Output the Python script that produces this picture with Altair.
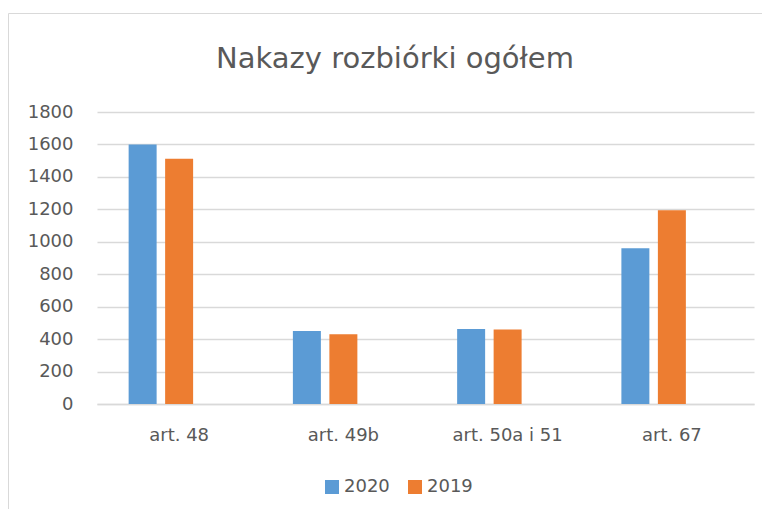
import altair as alt
import pandas as pd

categories = ["art. 48", "art. 49b", "art. 50a i 51", "art. 67"]
series = ["2020", "2019"]
values_2020 = [1600, 450, 463, 960]
values_2019 = [1512, 430, 460, 1195]
y_ticks = [0, 200, 400, 600, 800, 1000, 1200, 1400, 1600, 1800]
title_text = "Nakazy rozbiórki ogółem"
colors = ["#5B9BD5", "#ED7D31"]

rows = []
for i, c in enumerate(categories):
    rows.append({"kategoria": c, "rok": "2020", "wartosc": values_2020[i]})
    rows.append({"kategoria": c, "rok": "2019", "wartosc": values_2019[i]})
df = pd.DataFrame(rows)

FONT = "DejaVu Sans"
TXT = "#595959"
GRID = "#D9D9D9"

bars = alt.Chart(df).mark_bar().encode(
    x=alt.X("kategoria:N", sort=categories,
            scale=alt.Scale(paddingInner=0, paddingOuter=0),
            axis=alt.Axis(title=None, labelAngle=0, ticks=False, tickSize=0,
                          domainColor=GRID, domainWidth=1.5,
                          labelFont=FONT, labelFontSize=18, labelColor=TXT,
                          labelPadding=22, grid=False)),
    xOffset=alt.XOffset("rok:N",
                        scale=alt.Scale(domain=["2020", "2019", "_"],
                                        paddingInner=0.233, paddingOuter=0.867)),
    y=alt.Y("wartosc:Q",
            scale=alt.Scale(domain=[0, 1800], nice=False),
            axis=alt.Axis(title=None, values=y_ticks, format="d", ticks=False, tickSize=0,
                          domain=False, gridColor=GRID, gridWidth=1.3,
                          labelFont=FONT, labelFontSize=18, labelColor=TXT,
                          labelPadding=24)),
    color=alt.Color("rok:N", sort=series,
                    scale=alt.Scale(domain=series, range=colors),
                    legend=alt.Legend(title=None, orient="none", direction="horizontal",
                                      legendX=226, legendY=366,
                                      symbolType="square", symbolSize=196,
                                      symbolStrokeWidth=0,
                                      labelFont=FONT, labelFontSize=18, labelColor=TXT,
                                      labelOffset=3, columnPadding=16)),
)

frame = pd.DataFrame({"k": [0]})
left_border = alt.Chart(frame).mark_rule(color="#D9D9D9", strokeWidth=1).encode(
    x=alt.value(-88.5), y=alt.value(-98.5), y2=alt.value(420))
top_border = alt.Chart(frame).mark_rule(color="#D9D9D9", strokeWidth=1).encode(
    x=alt.value(-88.5), x2=alt.value(700), y=alt.value(-98.5))

title_df = pd.DataFrame({"t": [title_text]})
title_mark = alt.Chart(title_df).mark_text(
    font=FONT, fontSize=29, color=TXT, align="center", baseline="alphabetic"
).encode(text="t:N", x=alt.value(298), y=alt.value(-43.7))

chart = alt.layer(left_border, top_border, title_mark, bars).properties(
    width=657, height=292,
    autosize=alt.AutoSizeParams(type="none"),
    padding={"left": 89, "top": 104, "right": 8, "bottom": 105},
).configure_view(stroke=None)

chart.save("out.html", embed_options={"renderer": "svg", "actions": False})
